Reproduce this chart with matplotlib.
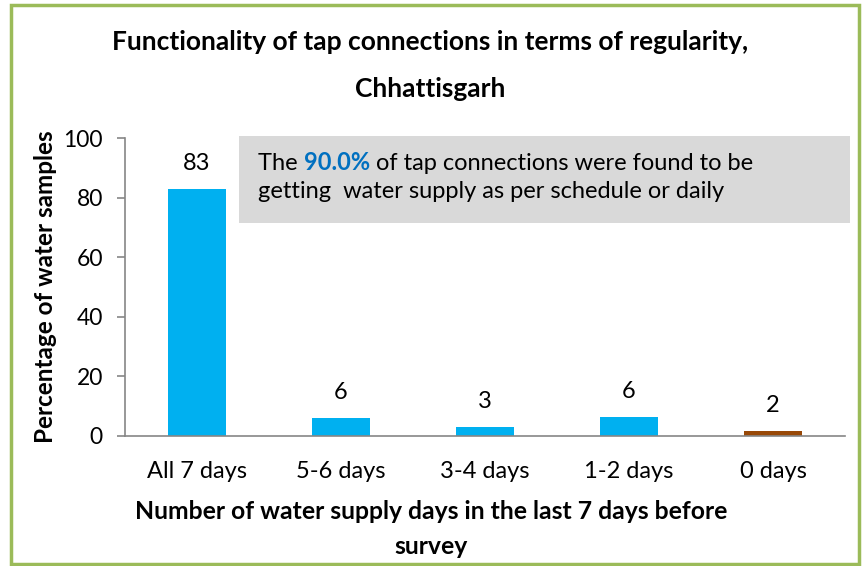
import matplotlib
matplotlib.use('Agg')
import matplotlib.pyplot as plt
from matplotlib.patches import Rectangle

plt.rcParams['font.family'] = ['Lato', 'DejaVu Sans']

categories = ['All 7 days', '5-6 days', '3-4 days', '1-2 days', '0 days']
values = [82.8, 5.9, 2.9, 6.3, 1.6]
bar_colors = ['#00B0F0', '#00B0F0', '#00B0F0', '#00B0F0', '#984807']
yticks = [0, 20, 40, 60, 80, 100]

title_lines = ['Functionality of tap connections in terms of regularity,', 'Chhattisgarh']
xlabel_lines = ['Number of water supply days in the last 7 days before', 'survey']
ylabel = 'Percentage of water samples'
note_parts = ['The ', '90.0%', ' of tap connections were found to be']
note_line2 = 'getting  water supply as per schedule or daily'

fs = 17
W, H = 865, 566
fig = plt.figure(figsize=(W / 100, H / 100), dpi=100)
ax = fig.add_axes([125 / W, (H - 436) / H, (845 - 125) / W, (436 - 138) / H])
ax.patch.set_alpha(0)

gray = '#868686'
x = range(len(categories))
ax.bar(x, values, width=0.4, color=bar_colors, zorder=2)
for i, v in enumerate(values):
    ax.text(i, v + 6.5, '%.0f' % v, ha='center', va='baseline', fontsize=fs)

ax.set_xlim(-0.5, len(categories) - 0.5)
ax.set_ylim(0, 100)
ax.set_yticks(yticks)
ax.set_yticklabels([str(t) for t in yticks], fontsize=16.5)
ax.set_xticks(list(x))
ax.set_xticklabels(categories, fontsize=fs)
ax.tick_params(axis='x', length=0, pad=18)
ax.tick_params(axis='y', length=6, color=gray, width=1.2, pad=10)
for s in ['top', 'right']:
    ax.spines[s].set_visible(False)
for s in ['left', 'bottom']:
    ax.spines[s].set_color(gray)
    ax.spines[s].set_linewidth(1.2)

ax.set_ylabel(ylabel, fontsize=17.5, fontweight='bold')
ax.yaxis.set_label_coords(-0.094, 0.5)

# title and x label, one text per line on its measured baseline
for line, yb in zip(title_lines, [50, 97]):
    fig.text(430 / W, 1 - yb / H, line, ha='center', va='baseline', fontsize=19,
             fontweight='bold')
for line, yb in zip(xlabel_lines, [519, 554]):
    fig.text(431 / W, 1 - yb / H, line, ha='center', va='baseline', fontsize=17.8,
             fontweight='bold')

# note box
fig.patches.append(Rectangle((239 / W, 1 - 223 / H), (850 - 239) / W, (223 - 136) / H,
                             transform=fig.transFigure, facecolor='#D9D9D9',
                             edgecolor='none', zorder=-1))
t = fig.text(258 / W, 1 - 170 / H, note_parts[0], ha='left', va='baseline', fontsize=fs)
t = fig.add_artist(matplotlib.text.Annotation(
    note_parts[1], xy=(1, 0), xycoords=t, ha='left', va='bottom', fontsize=fs,
    fontweight='bold', color='#0070C0'))
t = fig.add_artist(matplotlib.text.Annotation(
    note_parts[2], xy=(1, 0), xycoords=t, ha='left', va='bottom', fontsize=fs))
fig.text(258 / W, 1 - 198 / H, note_line2, ha='left', va='baseline', fontsize=fs)

# green frame
fig.patches.append(Rectangle((11 / W, 2 / H), 848 / W, 559 / H, transform=fig.transFigure,
                             facecolor='none', edgecolor='#9BBB59', linewidth=2.5))

fig.savefig('out.png', dpi=100)
